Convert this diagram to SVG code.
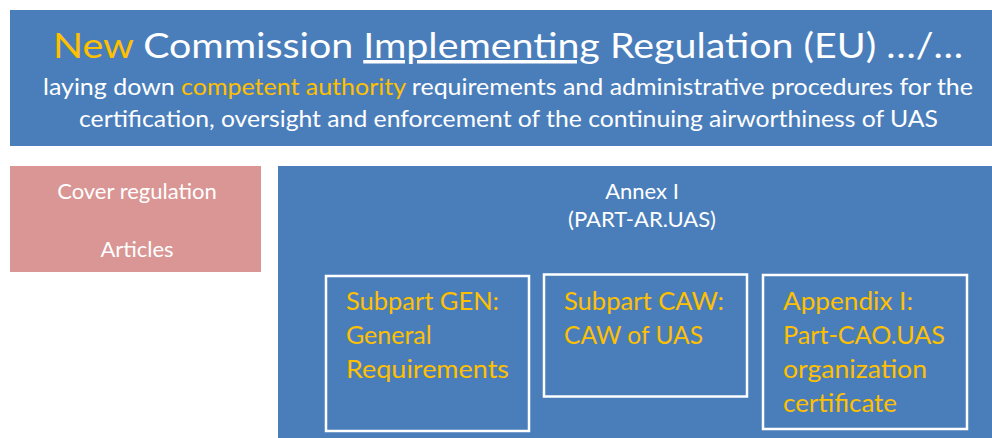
<svg xmlns="http://www.w3.org/2000/svg" width="992" height="438" viewBox="0 0 992 438">
<style>
text{font-family:Lato,"Open Sans","Liberation Sans",sans-serif;}
.w{fill:#ffffff;}
.y{fill:#ffc000;}
.blue{fill:#4a7ebb;}
.pink{fill:#d99694;}
.sub{fill:none;stroke:#ffffff;stroke-width:2.5;}
.t1{font-size:35px;}
.t2{font-size:23px;}
.m{font-size:22px;text-anchor:middle;}
.b{font-size:25px;fill:#ffc000;}
</style>
<rect width="992" height="438" fill="#ffffff"/>
<g id="banner">
<rect class="blue" x="10" y="10" width="982" height="136"/>
<text class="t1 w" x="53" y="58" textLength="910" lengthAdjust="spacingAndGlyphs"><tspan class="y">New</tspan> Commission <tspan text-decoration="underline">Implementing</tspan> Regulation (EU) …/…</text>
<text class="t2 w" x="43" y="95" textLength="930" lengthAdjust="spacingAndGlyphs">laying down <tspan class="y">competent authority</tspan> requirements and administrative procedures for the</text>
<text class="t2 w" x="79" y="127" textLength="859" lengthAdjust="spacingAndGlyphs">certification, oversight and enforcement of the continuing airworthiness of UAS</text>
</g>
<g id="cover">
<rect class="pink" x="10" y="166" width="251" height="106"/>
<text class="m w" x="137" y="199">Cover regulation</text>
<text class="m w" x="137" y="257">Articles</text>
</g>
<g id="annex">
<rect class="blue" x="278" y="166" width="714" height="272"/>
<text class="m w" x="642" y="199">Annex I</text>
<text class="m w" x="642" y="227">(PART-AR.UAS)</text>
</g>
<g id="gen">
<rect class="sub" x="326" y="276" width="203" height="155"/>
<text class="b" x="346" y="310" textLength="153" lengthAdjust="spacingAndGlyphs">Subpart GEN:</text>
<text class="b" x="346" y="344">General</text>
<text class="b" x="346" y="378" textLength="163" lengthAdjust="spacingAndGlyphs">Requirements</text>
</g>
<g id="caw">
<rect class="sub" x="544" y="274.5" width="203" height="122"/>
<text class="b" x="564" y="310" textLength="160" lengthAdjust="spacingAndGlyphs">Subpart CAW:</text>
<text class="b" x="564" y="344" textLength="139" lengthAdjust="spacingAndGlyphs">CAW of UAS</text>
</g>
<g id="appendix">
<rect class="sub" x="763" y="275" width="204" height="154"/>
<text class="b" x="783" y="310" textLength="130" lengthAdjust="spacingAndGlyphs">Appendix I:</text>
<text class="b" x="783" y="344" textLength="162" lengthAdjust="spacingAndGlyphs">Part-CAO.UAS</text>
<text class="b" x="783" y="378" textLength="144" lengthAdjust="spacingAndGlyphs">organization</text>
<text class="b" x="783" y="412" textLength="114" lengthAdjust="spacingAndGlyphs">certificate</text>
</g>
<g id="connectors"></g>
</svg>
